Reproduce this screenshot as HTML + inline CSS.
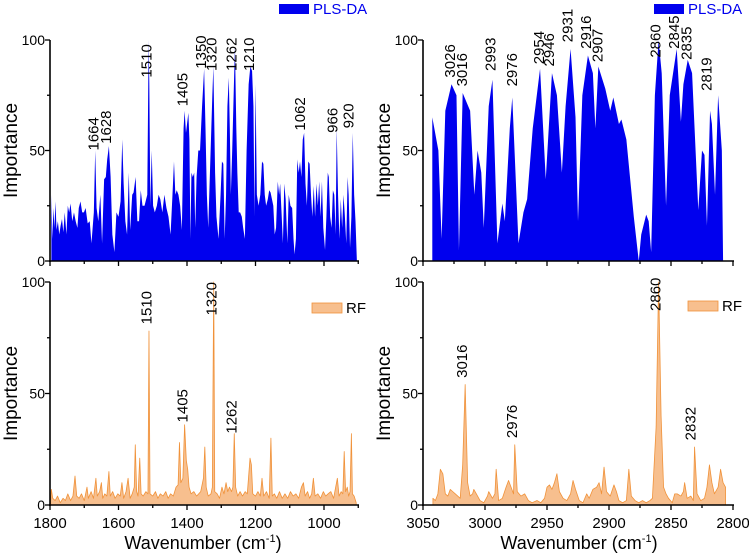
<!DOCTYPE html>
<html><head><meta charset="utf-8">
<style>
html,body{margin:0;padding:0;background:#fff;}
svg{display:block;font-family:"Liberation Sans",Arial,sans-serif;}
</style></head>
<body>
<svg id="chart" width="749" height="555" viewBox="0 0 749 555" xmlns="http://www.w3.org/2000/svg"></svg>
<script>
// ---------- DATA ----------
// Top-left: PLS-DA, fingerprint region
const plsFpW = [1796,1793,1790,1787,1784,1781,1777,1773,1769,1765,1761,1757,1752,1748,1744,1740,1735,1730,1725,1720,1716,1711,1706,1701,1696,1690,1684,1679,1672,1668,1664,1659,1653,1648,1642,1637,1633,1628,1623,1618,1612,1606,1600,1594,1589,1585,1580,1575,1570,1566,1560,1556,1550,1545,1540,1535,1530,1524,1516,1512,1510,1507,1503,1499,1494,1488,1483,1478,1472,1466,1460,1454,1448,1443,1438,1434,1430,1425,1420,1415,1410,1407,1403,1396,1393,1390,1387,1383,1379,1376,1372,1367,1362,1356,1350,1346,1342,1338,1332,1326,1323,1318,1314,1308,1302,1298,1294,1290,1286,1282,1278,1275,1272,1268,1263,1260,1256,1253,1249,1245,1240,1236,1231,1226,1220,1215,1210,1206,1203,1200,1196,1191,1186,1181,1177,1173,1169,1164,1160,1156,1152,1148,1144,1140,1135,1131,1128,1124,1120,1116,1112,1107,1103,1098,1093,1089,1086,1082,1078,1074,1070,1066,1062,1058,1054,1050,1046,1042,1038,1034,1030,1026,1022,1018,1014,1010,1006,1002,997,993,989,986,982,978,974,970,966,963,959,955,951,947,943,939,935,931,928,924,920,916,912,908,904];
const plsFpV = [30,10,24,15,27,14,18,12,16,19,13,22,12,25,22,26,18,22,18,15,24,27,22,22,24,17,18,8,22,50,24,18,30,8,37,38,46,52,38,12,4,22,20,27,55,35,18,12,40,14,30,31,38,18,18,32,25,25,30,100,80,25,50,25,22,25,30,28,22,30,24,20,12,28,45,30,32,30,25,14,60,68,58,67,55,10,40,38,40,15,38,50,50,70,87,60,30,15,45,75,88,40,20,10,30,45,44,10,30,70,83,60,30,50,80,97,60,40,22,22,20,15,10,50,80,88,86,70,20,80,30,25,30,45,44,30,25,28,32,31,28,25,12,15,36,30,35,22,8,35,28,8,30,25,24,10,3,10,46,40,45,38,55,58,35,25,45,44,30,20,34,20,35,25,36,20,36,15,5,20,40,38,20,15,32,30,12,60,30,10,28,15,30,20,8,38,30,6,20,58,30,18,0];
const plsFpLabels = [1664,1628,1510,1405,1350,1320,1262,1210,1062,966,920];
const plsFpLabelAt = [50,53,83,70,87,86,86,86,59,58,60];

// Top-right: PLS-DA, CH region
const plsChW = [3042.5,3037.6,3035,3032,3027,3023,3021,3018,3012,3008.6,3006,3003,3001,2997,2994,2990,2986,2984,2980,2978,2973,2969,2966,2961.5,2955.6,2951,2946,2942,2938,2935,2931,2927,2925,2921.5,2917,2913,2911,2908.6,2903,2899,2896.5,2892,2890,2886,2880,2876,2874,2870,2868,2866,2863,2860,2857.5,2854,2851,2845.4,2842,2840,2836.5,2833,2828,2825,2823,2821,2818.5,2817,2814.5,2812,2809,2808];
const plsChV = [65,50,10,68,80,75,5,76,68,30,50,40,15,70,82,8,26,18,60,74,8,22,28,60,87,37,85,75,40,70,96,65,18,75,93,85,60,88,78,68,74,62,64,55,20,0,12,21,18,4,75,100,85,25,75,96,63,80,91,85,23,50,48,16,68,62,30,75,50,0];
const plsChLabels = [3026,3016,2993,2976,2954,2946,2931,2916,2907,2860,2845,2835,2819];
const plsChLabelAt = [83,79,86,79,89,88,99,96,90,92,96,91,77];

// Bottom-left: RF, fingerprint region
const rfFpW = [1798,1796,1792,1785,1778,1770,1762,1755,1748,1740,1733,1727,1722,1715,1708,1700,1692,1688,1680,1673,1666,1662,1655,1650,1646,1640,1634,1628,1624,1617,1610,1602,1595,1590,1585,1578,1572,1566,1560,1554,1551,1547,1543,1538,1534,1528,1520,1514,1511,1508,1500,1492,1485,1478,1470,1462,1455,1448,1440,1432,1426,1422,1418,1412,1407,1402,1398,1394,1388,1380,1372,1366,1360,1352,1348,1344,1338,1330,1326,1322,1319,1312,1305,1298,1292,1286,1281,1276,1270,1266,1262,1258,1252,1245,1238,1230,1224,1216,1212,1208,1200,1193,1186,1181,1176,1168,1160,1155,1151,1145,1138,1130,1122,1114,1106,1098,1090,1082,1074,1066,1060,1055,1048,1042,1036,1031,1026,1018,1010,1002,995,988,980,972,966,961,956,950,945,941,937,932,928,924,920,917,912,906];
const rfFpV = [2,7,3,2,4,1,3,2,5,2,4,13,4,3,5,2,8,3,6,3,12,4,6,10,3,5,4,15,4,6,3,5,4,10,3,6,12,3,5,8,27,6,4,21,5,4,6,5,78,5,4,6,3,5,4,6,3,5,4,8,9,28,10,12,36,20,16,8,5,6,4,5,6,12,26,8,4,5,8,100,6,5,3,8,5,10,6,8,6,8,32,8,4,6,4,6,5,21,18,5,4,6,4,12,4,6,3,30,4,5,3,6,3,5,3,6,4,5,3,8,10,4,6,3,5,12,4,5,3,6,4,5,6,3,8,12,4,6,5,24,6,8,4,6,32,5,4,1];
const rfFpLabels = [1510,1405,1320,1262];
const rfFpLabelAt = [81,37,85,32];

// Bottom-right: RF, CH region
const rfChW = [3042,3040,3038,3036,3034,3032,3030,3028,3026,3024,3022,3020,3018,3016,3014,3012,3010,3009,3007,3004,3001,2998,2997,2994,2992,2991,2989,2986,2983,2981,2979,2977,2976,2974,2971,2968,2965,2962,2958,2955,2952,2950,2948,2946,2944,2942,2940,2937,2934,2931,2929,2927,2924,2921,2918,2916,2913,2910,2908,2906,2904,2902,2899,2896,2894,2892,2889,2886,2884,2882,2879,2876,2873,2870,2867,2865,2862,2860,2858,2856,2854,2852,2849,2847,2845,2842,2840,2839,2837,2834,2832,2831,2829,2826,2823,2821,2819,2817,2815,2812,2810,2808,2806];
const rfChV = [3,2,5,16,14,5,4,7,6,5,4,3,18,54,10,4,5,7,5,2,1,4,6,3,5,16,2,3,8,11,8,5,27,6,4,5,2,1,2,1,3,8,9,7,10,14,6,3,2,5,11,7,2,1,5,3,7,8,10,5,17,6,4,9,6,2,1,2,16,4,2,1,2,1,2,3,35,100,40,8,5,3,1,5,5,4,6,10,3,4,2,26,5,2,3,8,18,10,5,8,16,10,8];
const rfChLabels = [3016,2976,2860,2832];
const rfChLabelAt = [57,30,87,29];

// Tick label arrays
const fpTicks = [1800,1600,1400,1200,1000];
const chTicks = [3050,3000,2950,2900,2850,2800];
const yTicks = [0,50,100];

// ---------- DRAWING ----------
const NS = "http://www.w3.org/2000/svg";
const svg = document.getElementById('chart');
function mk(tag, attrs, parent){
  const e = document.createElementNS(NS, tag);
  for (const k in attrs) e.setAttribute(k, attrs[k]);
  (parent||svg).appendChild(e);
  return e;
}
const PLS_FILL = "#0000ee", RF_FILL = "#f7bf8e", RF_LINE = "#f0923a";

function panel(cfg){
  const g = mk('g', {});
  
  
  const xs = w => cfg.x0 + (cfg.w0 - w) * cfg.k;
  const ys = v => cfg.yb - v * (cfg.yb - cfg.yt) / 100;
  let d = `M${xs(cfg.W[0])},${ys(0)}`;
  for (let i=0;i<cfg.W.length;i++) d += ` L${xs(cfg.W[i]).toFixed(2)},${ys(cfg.V[i]).toFixed(2)}`;
  d += ` L${xs(cfg.W[cfg.W.length-1])},${ys(0)} Z`;
  const area = mk('path', {d, fill: cfg.fill, stroke: cfg.stroke, 'stroke-width': cfg.stroke==='none'?0:0.8, 'stroke-linejoin':'round'}, g);
  
  
  const ya = mk('line', {x1:cfg.x0, y1:cfg.yt, x2:cfg.x0, y2:cfg.yb+1, stroke:'#000','stroke-width':1.6}, g);
  
  
  const xa = mk('line', {x1:cfg.x0-1, y1:cfg.yb, x2:cfg.xEnd, y2:cfg.yb, stroke:'#000','stroke-width':1.6}, g);
  
  
  for (let v=0; v<=100; v+=25){
    const major = v%50===0;
    mk('line', {x1:cfg.x0-(major?5:3), y1:ys(v), x2:cfg.x0, y2:ys(v), stroke:'#000','stroke-width':1.3}, g);
  }
  yTicks.forEach(v=>{
    const t = mk('text', {x:cfg.x0-5, y:ys(v)+5, 'text-anchor':'end','font-size':14, fill:'#000'}, g);
    t.textContent = v;
    
    
  });
  const step = cfg.minor;
  for (let w=cfg.w0; w>=cfg.wEnd-0.01; w-=step){
    const major = Math.round((cfg.w0-w)/step)%2===0;
    mk('line', {x1:xs(w), y1:cfg.yb, x2:xs(w), y2:cfg.yb+(major?5:3), stroke:'#000','stroke-width':1.3}, g);
  }
  if (cfg.showX){
    cfg.ticks.forEach(w=>{
      const t = mk('text', {x:xs(w), y:cfg.yb+23, 'text-anchor':'middle','font-size':15, fill:'#000'}, g);
      t.textContent = w;
      
      
    });
    const tt = mk('text', {x:cfg.titleX, y:cfg.yb+44, 'text-anchor':'middle','font-size':18, fill:'#000'}, g);
    
    
    tt.innerHTML = 'Wavenumber (cm<tspan dy="-7" font-size="11">-1</tspan><tspan dy="7">)</tspan>';
  }
  const yt = mk('text', {x:0, y:0, transform:`translate(${cfg.x0-33},${(cfg.yt+cfg.yb)/2}) rotate(-90)`, 'text-anchor':'middle','font-size':19, fill:'#000'}, g);
  yt.textContent = 'Importance';
  
  
  cfg.labels.forEach((w,i)=>{
    const px = xs(w) - 3, py = ys(cfg.labelAt[i]);
    const t = mk('text', {x:0, y:0, transform:`translate(${px+5},${py}) rotate(-90)`, 'text-anchor':'start','font-size':15, fill:'#000'}, g);
    t.textContent = w;
    
    
  });
  const lg = mk('g', {}, g);
  
  
  mk('rect', {x:cfg.legX, y:cfg.legY, width:30, height:10, fill:cfg.fill, stroke:cfg.stroke==='none'?'none':cfg.stroke, 'stroke-width':0.8}, lg);
  const lt = mk('text', {x:cfg.legX+34, y:cfg.legY+10, 'font-size':15, fill:cfg.legColor}, lg);
  lt.textContent = cfg.legText;
}

panel({name:'pls-da-fingerprint-panel', series:'pls-da', W:plsFpW, V:plsFpV, x0:50, w0:1800, k:0.3425, wEnd:900, xEnd:359, minor:100,
  yt:40, yb:261, fill:PLS_FILL, stroke:'none', showX:false, ticks:fpTicks, labels:plsFpLabels, labelAt:plsFpLabelAt,
  legX:279, legY:4, legText:'PLS-DA', legColor:'#0000ee'});
panel({name:'pls-da-ch-panel', series:'pls-da', W:plsChW, V:plsChV, x0:423, w0:3050, k:1.24, wEnd:2800, xEnd:734, minor:25,
  yt:40, yb:261, fill:PLS_FILL, stroke:'none', showX:false, ticks:chTicks, labels:plsChLabels, labelAt:plsChLabelAt,
  legX:654, legY:4, legText:'PLS-DA', legColor:'#0000ee'});
panel({name:'rf-fingerprint-panel', series:'rf', W:rfFpW, V:rfFpV, x0:50, w0:1800, k:0.3425, wEnd:900, xEnd:359, minor:100,
  yt:282, yb:505, fill:RF_FILL, stroke:RF_LINE, showX:true, ticks:fpTicks, titleX:203, labels:rfFpLabels, labelAt:rfFpLabelAt,
  legX:312, legY:303, legText:'RF', legColor:'#000'});
panel({name:'rf-ch-panel', series:'rf', W:rfChW, V:rfChV, x0:423, w0:3050, k:1.24, wEnd:2800, xEnd:734, minor:25,
  yt:282, yb:505, fill:RF_FILL, stroke:RF_LINE, showX:true, ticks:chTicks, titleX:579, labels:rfChLabels, labelAt:rfChLabelAt,
  legX:688, legY:301, legText:'RF', legColor:'#000'});
</script>
</body></html>
